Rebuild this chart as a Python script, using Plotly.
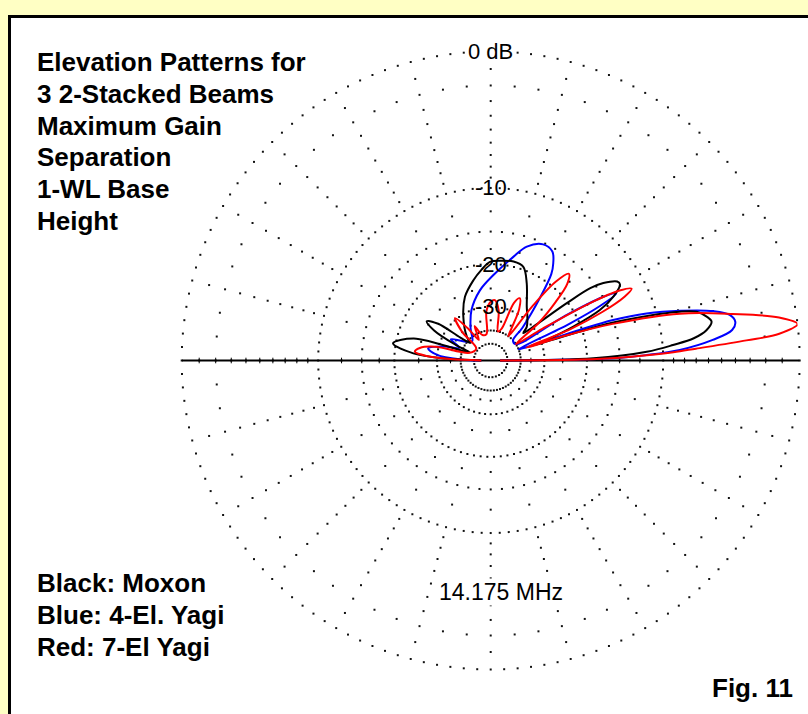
import numpy as np
import plotly.graph_objects as go

W, H = 808, 714
CX, CY, R = 490.7, 360.5, 309.0  # plot centre and 0 dB radius in pixels

# ---- elevation patterns (elevation angle in degrees, gain in dB re. overall max) ----
moxon_elev = [0, 1.2, 3.2, 4.85, 6.25, 8.0, 10.0, 11.5, 13.3, 14.5, 15.9, 17.5, 18.6, 19.3,
              20.2, 22.3, 24.8, 27.5, 30.5, 32.0, 34.5, 36.0, 37.0, 38.5, 40.0,
              43.0, 50.0, 56.2, 65.0, 70.8, 77.0, 84.0, 90.4, 96.0, 102.0, 112.0, 122.0, 135.0, 139.0,
              143.0, 145.0, 148.5, 152.0, 156.0, 159.0, 164.0, 170.0, 174.7, 177.5, 180.0]
moxon_db = [-60, -18.9, -11.7, -9.0, -7.1, -6.0, -5.5, -5.8, -6.5, -7.9, -11.0, -16.0, -27.0, -33.0,
            -28.0, -21.3, -16.2, -13.8, -12.4, -12.5, -14.0, -15.8, -20.2, -30.0, -34.0,
            -31.5, -29.0, -26.8, -22.1, -19.5, -19.1, -19.3, -19.6, -21.0, -22.7, -25.8, -30.7, -38.0, -42.0,
            -36.0, -27.0, -24.3, -27.0, -36.0, -45.0, -23.2, -19.5, -23.7, -33.0, -60]

yagi4_elev = [0, 1.0, 2.0, 3.2, 5.3, 7.2, 9.0, 10.8, 12.5, 14.7, 16.8, 18.3, 19.0, 19.8,
              22.0, 25.0, 26.5, 28.1, 29.5, 31.0, 33.0,
              42.0, 46.0, 52.0, 55.0, 57.2, 60.5, 65.7, 72.4, 77.8, 88.0, 98.9, 111.0, 122.0, 134.0,
              145.0, 152.0, 158.0, 163.0, 169.0, 174.0, 178.0, 180.0]
yagi4_db = [-60, -15.9, -11.7, -8.4, -5.6, -4.1, -3.8, -4.1, -5.2, -7.8, -11.0, -15.0, -20.3, -32.0,
            -40.0, -22.0, -16.0, -13.3, -15.0, -22.0, -40.0,
            -40.0, -32.7, -23.0, -18.4, -16.9, -15.5, -15.2, -16.3, -18.4, -22.0, -25.3, -30.0, -36.0, -42.0,
            -38.0, -33.0, -38.0, -32.0, -27.1, -30.0, -40.0, -60]

yagi7_elev = [0, 0.6, 1.2, 1.9, 2.6, 3.3, 4.5, 5.3, 6.8, 8.5, 10.9, 13.9, 16.7, 18.5, 19.8,
              21.5, 23.5, 25.5, 27.0, 28.5, 30.0, 31.5, 33.0,
              38.0, 42.0, 45.0, 48.0, 50.5, 52.5, 54.0,
              57.0, 61.0, 65.0, 68.0, 71.0,
              76.0, 81.0, 86.0, 90.0, 95.0, 99.0,
              108.0, 115.0, 120.0, 125.0, 130.0, 135.0, 140.0,
              160.0, 166.0, 170.0, 173.4, 176.0, 178.0, 180.0]
yagi7_db = [-60, -21.0, -15.0, -11.7, -9.0, -7.0, -3.2, -1.1, 0.0, -1.0, -3.9, -7.9, -15.2, -24.0, -36.0,
            -22.0, -16.0, -12.6, -11.5, -12.8, -17.0, -28.0, -40.0,
            -28.0, -21.7, -18.0, -16.7, -19.0, -26.0, -40.0,
            -36.0, -28.5, -25.8, -27.5, -38.0,
            -40.0, -31.0, -28.0, -28.5, -31.5, -42.0,
            -42.0, -36.0, -44.0, -36.0, -29.5, -35.0, -48.0,
            -45.0, -29.0, -25.0, -24.0, -27.0, -35.0, -60]

# ---- grid definition ----
ring_db = [0, -10, -20, -30, -40, -50]          # labelled rings
ring_step = [2.5, 3.0, 4.0, 6.0, 6.0, 12.0]      # dot spacing on each ring (deg)
spoke_db = [-1, -2, -3, -4, -5, -6, -7, -8, -9, -12.5, -15, -17.5, -25, -35]
ring_labels = ["0 dB", "-10", "-20", "-30"]
freq_label = "14.175 MHz"
title_lines = ["Elevation Patterns for", "3 2-Stacked Beams", "Maximum Gain",
               "Separation", "1-WL Base", "Height"]
legend_lines = ["Black: Moxon", "Blue: 4-El. Yagi", "Red: 7-El Yagi"]
fig_label = "Fig. 11"


def arrl(db):
    """ARRL log scale: radius shrinks by a factor 0.89 every 2 dB."""
    return 0.89 ** (-np.asarray(db, dtype=float) / 2.0)


fig = go.Figure()

# dotted spokes every 15 degrees, one dot per dB step
sr, st = [], []
for a in np.arange(0, 360, 15):
    for d in spoke_db:
        sr.append(float(arrl(d)))
        st.append(float(a))
# intermediate rings dotted every 5 degrees
for d in [-2, -15]:
    for a in np.arange(0, 360, 5):
        if a % 15:
            sr.append(float(arrl(d)))
            st.append(float(a))
fig.add_trace(go.Scatterpolar(r=sr, theta=st, mode="markers",
                              marker=dict(symbol="square", size=2, color="#111"),
                              hoverinfo="skip", showlegend=False))

# labelled rings
for d, step in zip(ring_db, ring_step):
    th = np.arange(0, 360, step)
    fig.add_trace(go.Scatterpolar(r=np.full(th.size, float(arrl(d))), theta=th, mode="markers",
                                  marker=dict(symbol="square", size=2, color="#111"),
                                  hoverinfo="skip", showlegend=False))

# horizon line with its dB ticks
fig.add_trace(go.Scatterpolar(r=[1, 0, 1], theta=[180, 0, 0], mode="lines",
                              line=dict(color="black", width=2),
                              hoverinfo="skip", showlegend=False))
fig.add_trace(go.Scatterpolar(r=[float(arrl(d)) for d in spoke_db] * 2,
                              theta=[0] * len(spoke_db) + [180] * len(spoke_db),
                              mode="markers",
                              marker=dict(symbol="line-ns", size=4, line=dict(width=1, color="black")),
                              hoverinfo="skip", showlegend=False))

# patterns
for name, el, g, col in [("4-El. Yagi", yagi4_elev, yagi4_db, "#0000ff"),
                         ("Moxon", moxon_elev, moxon_db, "#000000"),
                         ("7-El Yagi", yagi7_elev, yagi7_db, "#ff0000")]:
    fig.add_trace(go.Scatterpolar(r=arrl(g), theta=el, mode="lines", name=name,
                                  line=dict(color=col, width=2, shape="spline", smoothing=1),
                                  showlegend=False))

fig.update_layout(
    width=W, height=H,
    margin=dict(l=0, r=0, t=0, b=0),
    paper_bgcolor="#ffffc4",
    polar=dict(
        domain=dict(x=[(CX - R) / W, (CX + R) / W], y=[(H - CY - R) / H, (H - CY + R) / H]),
        bgcolor="rgba(0,0,0,0)",
        radialaxis=dict(visible=False, range=[0, 1]),
        angularaxis=dict(visible=False, rotation=0, direction="counterclockwise"),
    ),
    shapes=[dict(type="rect", xref="paper", yref="paper",
                 x0=9.5 / W, x1=1.2, y0=-0.2, y1=1 - 16.5 / H,
                 line=dict(color="black", width=3), fillcolor="white", layer="below")],
)

ann = []
lab_font = dict(family="Liberation Sans, Arial, sans-serif", size=22, color="black")
for d, t in zip(ring_db, ring_labels):
    y = CY - R * float(arrl(d))
    ann.append(dict(text=t, x=CX / W, y=1 - y / H, xref="paper", yref="paper",
                    xanchor="center", yanchor="middle", showarrow=False,
                    bgcolor="white" if d == 0 else None, borderpad=0, font=lab_font))
ann.append(dict(text=freq_label, x=501 / W, y=1 - 592 / H, xref="paper", yref="paper",
                xanchor="center", yanchor="middle", showarrow=False, bgcolor="white",
                borderpad=0, font=dict(family="Liberation Sans, Arial, sans-serif", size=23, color="black")))
bold = dict(family="Liberation Sans, Arial, sans-serif", size=26, color="black")
for i, t in enumerate(title_lines):
    ann.append(dict(text="<b>%s</b>" % t, x=35 / W, y=1 - (62 + 31.8 * i) / H, xref="paper", yref="paper",
                    xanchor="left", yanchor="middle", showarrow=False, font=bold))
for i, t in enumerate(legend_lines):
    ann.append(dict(text="<b>%s</b>" % t, x=35 / W, y=1 - (583 + 32 * i) / H, xref="paper", yref="paper",
                    xanchor="left", yanchor="middle", showarrow=False, font=bold))
ann.append(dict(text="<b>%s</b>" % fig_label, x=710 / W, y=1 - 688 / H, xref="paper", yref="paper",
                xanchor="left", yanchor="middle", showarrow=False, font=bold))
fig.update_layout(annotations=ann)

fig.write_html("out.html")
